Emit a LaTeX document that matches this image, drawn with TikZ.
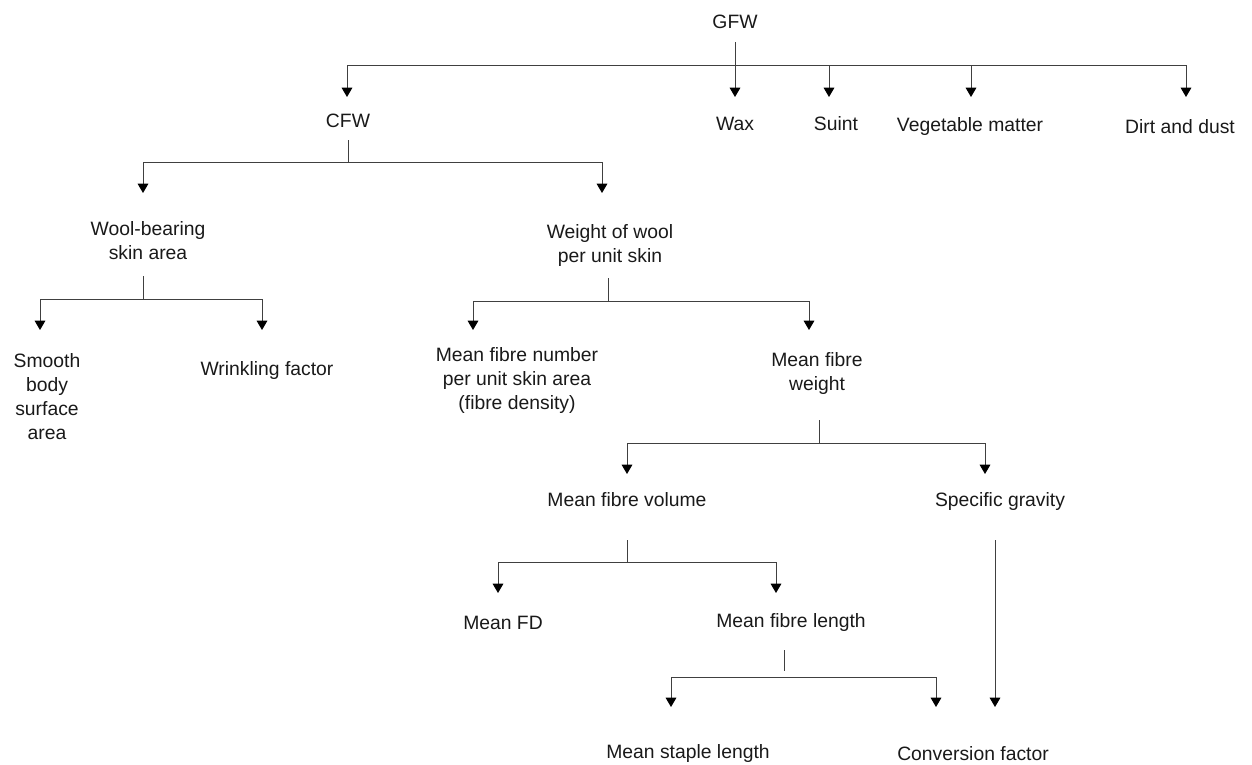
\documentclass[tikz,border=0pt]{standalone}
\usepackage{fontspec}
\setmainfont{Liberation Sans}
\usetikzlibrary{arrows.meta}
\begin{document}
\begin{tikzpicture}[x=0.75pt,y=-0.75pt,
  lbl/.style={inner sep=0pt, align=center, text=black!90, font=\fontsize{14.5}{18}\selectfont},
  ln/.style={draw=black!75, line width=0.75pt},
  arr/.style={ln, -{Triangle[width=8pt,length=7pt,fill=black,color=black]}}]
\useasboundingbox (0,0) rectangle (1252,764);
% text nodes
\node[lbl] (gfw) at (735,22) {GFW};
\node[lbl] (cfw) at (348,121) {CFW};
\node[lbl] (wax) at (735,124) {Wax};
\node[lbl] (suint) at (836,124) {Suint};
\node[lbl] (veg) at (970,126) {Vegetable matter};
\node[lbl] (dirt) at (1180,127) {Dirt and dust};
\node[lbl] (wool) at (148,241) {Wool-bearing\\skin area};
\node[lbl] (smooth) at (47,397) {Smooth\\body\\surface\\area};
\node[lbl] (wrink) at (267,370) {Wrinkling factor};
\node[lbl] (wow) at (610,245) {Weight of wool\\per unit skin};
\node[lbl] (mfn) at (517,380) {Mean fibre number\\per unit skin area\\(fibre density)};
\node[lbl] (mfw) at (817,373) {Mean fibre\\weight};
\node[lbl] (mfv) at (627,500) {Mean fibre volume};
\node[lbl] (sg) at (1000,501) {Specific gravity};
\node[lbl] (mfd) at (503,623) {Mean FD};
\node[lbl] (mfl) at (791,622) {Mean fibre length};
\node[lbl] (msl) at (688,753) {Mean staple length};
\node[lbl] (conv) at (973,754) {Conversion factor};
% connector coordinates
\coordinate (gfwS) at (735,42);
\coordinate (gfwL) at (347,65); \coordinate (gfwR) at (1186,65);
\coordinate (cfwT) at (347,97); \coordinate (waxT) at (735,97);
\coordinate (suintT) at (829,97); \coordinate (vegT) at (971,97);
\coordinate (dirtT) at (1186,97);
\coordinate (cfwS) at (348,140); \coordinate (cfwJ) at (348,162);
\coordinate (cfwL) at (143,162); \coordinate (cfwR) at (602,162);
\coordinate (woolT) at (143,193); \coordinate (wowT) at (602,193);
\coordinate (woolS) at (143,276); \coordinate (woolJ) at (143,299);
\coordinate (woolL) at (40,299); \coordinate (woolR) at (262,299);
\coordinate (smoothT) at (40,330); \coordinate (wrinkT) at (262,330);
\coordinate (wowS) at (608,278); \coordinate (wowJ) at (608,301);
\coordinate (wowL) at (473,301); \coordinate (wowR) at (809,301);
\coordinate (mfnT) at (473,330); \coordinate (mfwT) at (809,330);
\coordinate (mfwS) at (819,420); \coordinate (mfwJ) at (819,443);
\coordinate (mfwL) at (627,443); \coordinate (mfwR) at (985,443);
\coordinate (mfvT) at (627,474); \coordinate (sgT) at (985,474);
\coordinate (mfvS) at (627,540); \coordinate (mfvJ) at (627,562);
\coordinate (mfvL) at (498,562); \coordinate (mfvR) at (776,562);
\coordinate (mfdT) at (498,593); \coordinate (mflT) at (776,593);
\coordinate (mflS) at (784,650); \coordinate (mflJ) at (784,671);
\coordinate (mflL) at (671,677); \coordinate (mflR) at (936,677);
\coordinate (mslT) at (671,707); \coordinate (convT) at (936,707);
\coordinate (sgS) at (995,540); \coordinate (sgT2) at (995,707);
% GFW
\draw[arr] (gfwS) -- (waxT);
\draw[ln] (gfwL) -- (gfwR);
\draw[arr] (gfwL) -- (cfwT);
\draw[arr] (suintT |- gfwL) -- (suintT);
\draw[arr] (vegT |- gfwL) -- (vegT);
\draw[arr] (gfwR) -- (dirtT);
% CFW
\draw[ln] (cfwS) -- (cfwJ);
\draw[ln] (cfwL) -- (cfwR);
\draw[arr] (cfwL) -- (woolT);
\draw[arr] (cfwR) -- (wowT);
% Wool-bearing
\draw[ln] (woolS) -- (woolJ);
\draw[ln] (woolL) -- (woolR);
\draw[arr] (woolL) -- (smoothT);
\draw[arr] (woolR) -- (wrinkT);
% Weight of wool
\draw[ln] (wowS) -- (wowJ);
\draw[ln] (wowL) -- (wowR);
\draw[arr] (wowL) -- (mfnT);
\draw[arr] (wowR) -- (mfwT);
% Mean fibre weight
\draw[ln] (mfwS) -- (mfwJ);
\draw[ln] (mfwL) -- (mfwR);
\draw[arr] (mfwL) -- (mfvT);
\draw[arr] (mfwR) -- (sgT);
% Mean fibre volume
\draw[ln] (mfvS) -- (mfvJ);
\draw[ln] (mfvL) -- (mfvR);
\draw[arr] (mfvL) -- (mfdT);
\draw[arr] (mfvR) -- (mflT);
% Mean fibre length
\draw[ln] (mflS) -- (mflJ);
\draw[ln] (mflL) -- (mflR);
\draw[arr] (mflL) -- (mslT);
\draw[arr] (mflR) -- (convT);
% Specific gravity
\draw[arr] (sgS) -- (sgT2);
\end{tikzpicture}
\end{document}
